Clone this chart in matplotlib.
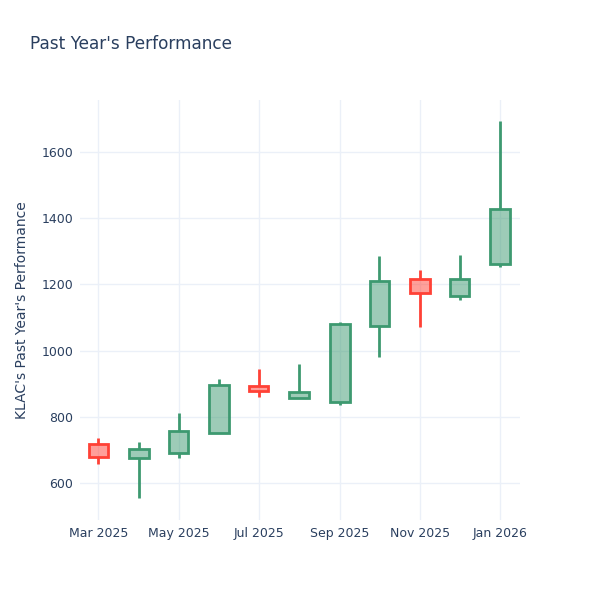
import matplotlib
matplotlib.use('Agg')
import matplotlib.pyplot as plt
from datetime import datetime

# monthly candles
months = ["2025-03-01", "2025-04-01", "2025-05-01", "2025-06-01", "2025-07-01", "2025-08-01",
          "2025-09-01", "2025-10-01", "2025-11-01", "2025-12-01", "2026-01-01"]
opens = [717, 675, 690, 752, 892, 856, 845, 1074, 1217, 1164, 1260]
highs = [735, 723, 811, 914, 945, 960, 1085, 1286, 1244, 1288, 1694]
lows = [656, 554, 676, 752, 861, 856, 834, 982, 1072, 1152, 1253]
closes = [679, 704, 758, 897, 878, 874, 1079, 1209, 1175, 1215, 1428]

tick_dates = ["2025-03-01", "2025-05-01", "2025-07-01", "2025-09-01", "2025-11-01", "2026-01-01"]
tick_labels = ["Mar 2025", "May 2025", "Jul 2025", "Sep 2025", "Nov 2025", "Jan 2026"]
y_ticks = [600, 800, 1000, 1200, 1400, 1600]

text_col = '#2a3f5f'
grid_col = '#EBF0F8'
up_col = '#3D9970'
down_col = '#FF4136'

dates = [datetime.strptime(d, "%Y-%m-%d") for d in months]

fig = plt.figure(figsize=(6, 6), dpi=100)
ax = fig.add_axes([80 / 600, 80 / 600, 440 / 600, 420 / 600])

for d, o, h, l, c in zip(dates, opens, highs, lows, closes):
    col = up_col if c >= o else down_col
    top, bot = max(o, c), min(o, c)
    ax.vlines(d, top, h, color=col, lw=2, zorder=3)
    ax.vlines(d, l, bot, color=col, lw=2, zorder=3)
    ax.bar(d, top - bot, bottom=bot, width=15, color=col, alpha=0.5, zorder=3, linewidth=0)
    ax.bar(d, top - bot, bottom=bot, width=15, fill=False, edgecolor=col, linewidth=2, zorder=4)

ax.set_xlim(datetime(2025, 2, 15), datetime(2026, 1, 16))
ax.set_ylim(488, 1757)
ax.set_xticks([datetime.strptime(d, "%Y-%m-%d") for d in tick_dates])
ax.set_xticklabels(tick_labels)
ax.set_yticks(y_ticks)
ax.grid(True, color=grid_col, lw=1, zorder=0)
ax.set_axisbelow(True)
for s in ax.spines.values():
    s.set_visible(False)
ax.tick_params(length=0, labelsize=9, labelcolor=text_col, pad=5)
ax.set_ylabel("KLAC's Past Year's Performance", fontsize=10, color=text_col, labelpad=9)

fig.text(30 / 600, 1 - 44 / 600, "Past Year's Performance", fontsize=12.2, color=text_col, va='center', ha='left')

fig.savefig("out.png", dpi=100, facecolor='white')
plt.close(fig)
